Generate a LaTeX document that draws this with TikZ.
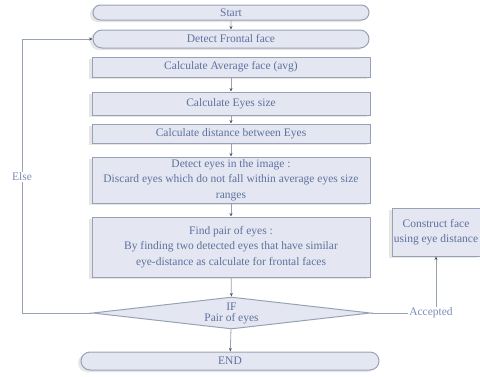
\documentclass[tikz,border=0pt]{standalone}
\usepackage{fontspec}
\setmainfont{Liberation Serif}
\usetikzlibrary{shapes.misc,shapes.geometric,shadows,arrows.meta}
\definecolor{boxfill}{HTML}{E4E7F1}
\definecolor{boxline}{HTML}{98A2B6}
\definecolor{boxtext}{HTML}{5E71A0}
\definecolor{flowline}{HTML}{97A3B1}
\definecolor{tipdark}{HTML}{4C5866}
\begin{document}
\begin{tikzpicture}[x=1pt,y=-1pt,
    font=\fontsize{11.5}{15.5}\selectfont,
    box/.style={rectangle, fill=boxfill, draw=boxline, line width=1pt, text=boxtext,
        align=center, inner sep=1pt, minimum width=278,
        drop shadow={shadow xshift=-3pt, shadow yshift=-2pt, opacity=.2}},
    roundbox/.style={box, rounded rectangle},
    decision/.style={diamond, fill=boxfill, draw=boxline, line width=1pt, text=boxtext,
        inner sep=0pt, minimum width=278, minimum height=32},
    flowlabel/.style={fill=white, text=boxtext!80, inner sep=1pt}]
    \useasboundingbox (0,0) rectangle (480,376);
    \begin{scope}
        \node[roundbox, minimum height=15] (0) at (231,12.5) {Start};
        \node[roundbox, minimum height=18] (1) at (231,39) {Detect Frontal face};
        \node[box, minimum height=20] (2) at (231,67) {Calculate Average face (avg)};
        \node[box, minimum height=23] (3) at (231,103.5) {Calculate Eyes size};
        \node[box, minimum height=19] (4) at (231,133.5) {Calculate distance between Eyes};
        \node[box, minimum height=46] (5) at (231,180)
            {Detect eyes in the image :\\Discard eyes which do not fall within average eyes size\\ranges};
        \node[box, minimum height=60] (6) at (231,247)
            {Find pair of eyes :\\By finding two detected eyes that have similar\\eye-distance as calculate for frontal faces};
        \node[decision] (7) at (231.5,313)
            {\makebox[0pt]{\smash{\raisebox{-3pt}{\begin{tabular}{@{}c@{}}IF\\[-4pt]Pair of eyes\end{tabular}}}}};
        \node[roundbox, minimum width=300, minimum height=18] (8) at (230,361) {END};
        \node[box, minimum width=88, minimum height=48] (9) at (436,232) {Construct face\\using eye distance};
    \end{scope}
    \node[flowlabel] (else) at (22,177) {Else};
    \node[flowlabel] (acc) at (431,313) {Accepted};
    \begin{scope}
        \tikzstyle{every edge}=[draw, flowline, line width=.8pt, -{Stealth[length=3.5pt, width=3pt, color=tipdark]}]
        \path
        (0) edge (1)
        (2) edge (3)
        (3) edge (4)
        (4) edge (5)
        (5) edge (6)
        (6) edge (7)
        (7) edge (8)
        (acc.north -| 9.south) edge (9.south)
        (else.north) edge[to path={|- (\tikztotarget)}] (1.west);
        \draw[flowline, line width=.8pt] (7.west) -| (else.south);
        \draw[flowline, line width=.8pt] (7.east) -- (acc.west);
    \end{scope}
\end{tikzpicture}
\end{document}
